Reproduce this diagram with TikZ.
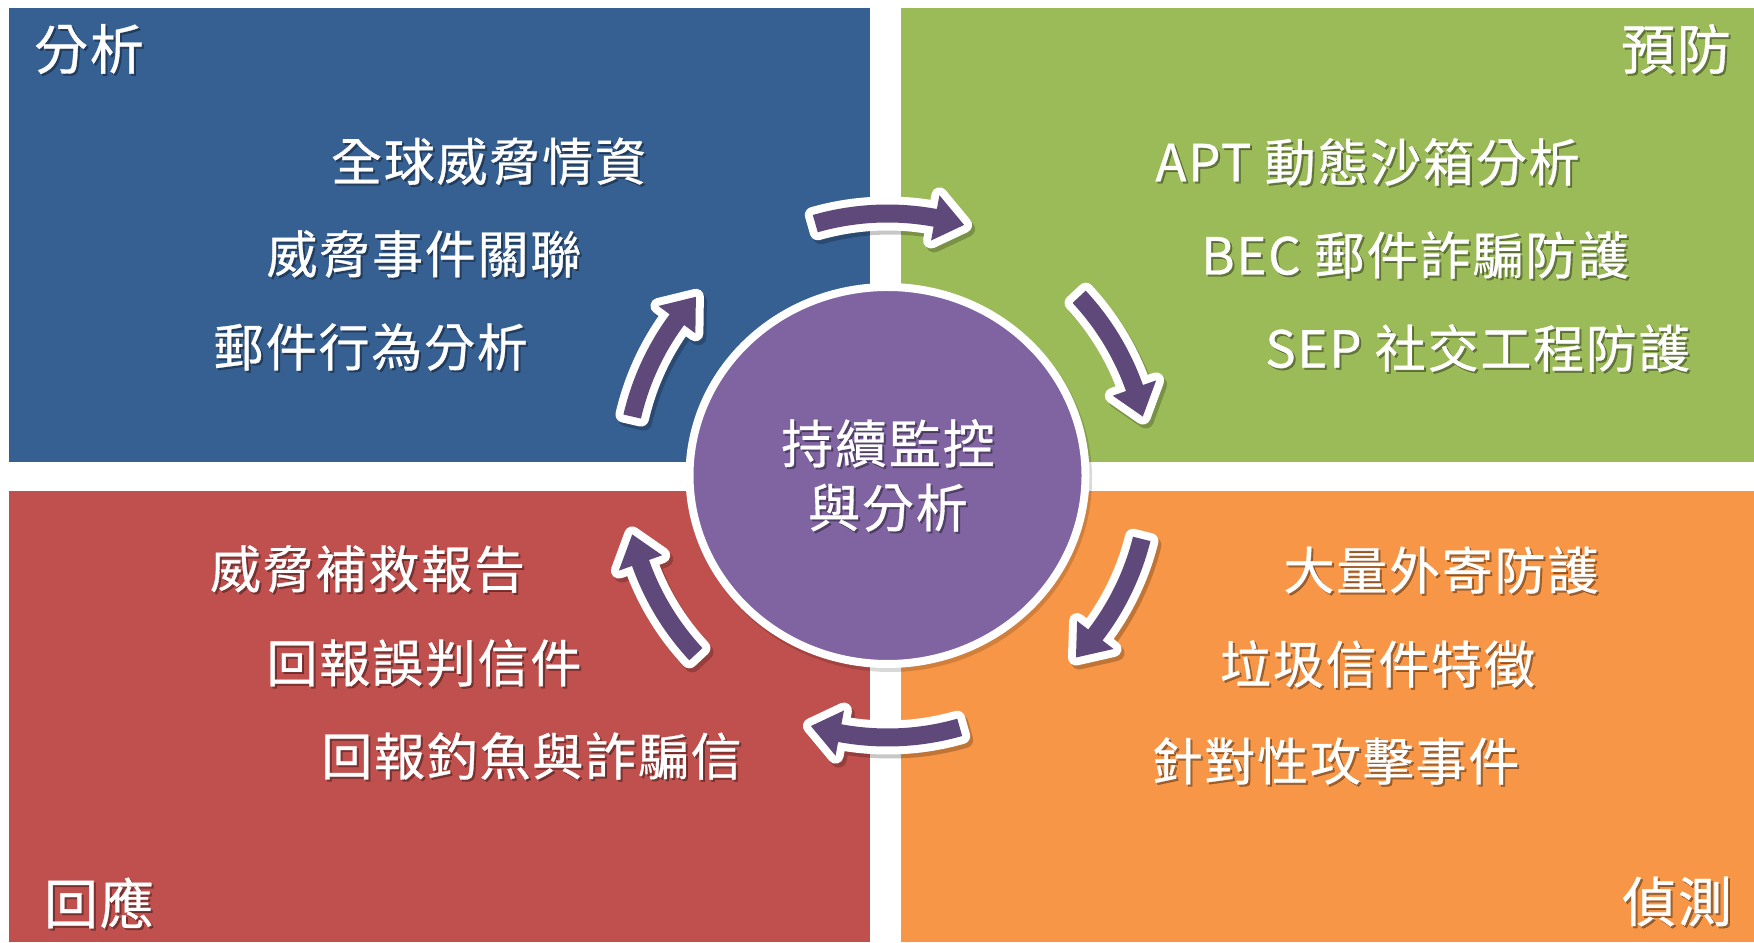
\documentclass[tikz,border=0pt]{standalone}
\usepackage{fontspec}
\newfontfamily\cjk[FakeBold=0.6, LetterSpace=3.5]{Noto Sans CJK TC}
\usetikzlibrary{calc}
\definecolor{qblue}{HTML}{366092}
\definecolor{qgreen}{HTML}{9BBB59}
\definecolor{qred}{HTML}{C0504D}
\definecolor{qorange}{HTML}{F79646}
\definecolor{cpurple}{HTML}{8064A2}
\definecolor{apurple}{HTML}{5F497A}
\newcommand{\arrowshape}[5]{%
  \path[#1] ($(#2)+(#3:135.5pt)$) arc[start angle=#3, end angle=#5, radius=135.5pt]
    -- ($(#2)+(#5:142.5pt)$) -- ($(#2)+(#4:131pt)$) -- ($(#2)+(#5:119.5pt)$)
    -- ($(#2)+(#5:126.5pt)$) arc[start angle=#5, end angle=#3, radius=126.5pt] -- cycle;}
\newcommand{\cyclearrow}[3]{%
  \arrowshape{fill=black, opacity=.22, draw=black, line width=8pt, line join=round}{Cs}{#1}{#2}{#3}%
  \arrowshape{fill=white, draw=white, line width=8pt, line join=round}{C}{#1}{#2}{#3}%
  \arrowshape{fill=apurple}{C}{#1}{#2}{#3}}
\newcommand{\stext}[4]{% name, position, style, text
  \node[#3, text=black, opacity=.35] (#1s) at ($(#2)+(2,-2)$) {#4};
  \node[#3, text=white] (#1) at (#2) {#4};}
\tikzset{
  item/.style={font=\cjk\fontsize{25.5}{30}\selectfont, inner sep=0pt},
  corner/.style={font=\cjk\fontsize{27}{32}\selectfont, inner sep=0pt},
  hub/.style={font=\cjk\fontsize{26}{32}\selectfont, inner sep=0pt, align=center},
}
\begin{document}
\begin{tikzpicture}[x=0.5pt, y=0.5pt]
\fill[white] (0,0) rectangle (1754,942);
\useasboundingbox (0,0) rectangle (1754,942);
% quadrants
\fill[qblue] (9,480) rectangle (870,934);
\fill[qgreen] (901,480) rectangle (1754,934);
\fill[qred] (9,0) rectangle (870,451);
\fill[qorange] (901,0) rectangle (1754,451);
% centre
\coordinate (C) at (887.5,466.5);
\coordinate (Cs) at (890.5,462.5);
\fill[black, opacity=.15] (890,463) ellipse[x radius=101pt, y radius=96.5pt];
\draw[white, line width=4pt, fill=cpurple] (C) ellipse[x radius=99pt, y radius=94.25pt];
% arrows
\cyclearrow{106}{73}{79.5}
\cyclearrow{43}{13}{19.5}
\cyclearrow{-14}{-44}{-37.5}
\cyclearrow{-74}{-107}{-100.5}
\cyclearrow{-137}{-167}{-160.5}
\cyclearrow{167}{137}{143.5}
% centre text
\stext{hubtext}{888,466.5}{hub}{持續監控\\與分析}
% corner labels
\stext{ca}{89,893}{corner}{分析}
\stext{cb}{1676,893}{corner}{預防}
\stext{cc}{99,39}{corner}{回應}
\stext{cd}{1677,40.5}{corner}{偵測}
% items
\stext{tl1}{488.5,780.5}{item}{全球威脅情資}
\stext{tl2}{424,688}{item}{威脅事件關聯}
\stext{tl3}{370.5,595}{item}{郵件行為分析}
\stext{tr1}{1367.5,780}{item}{APT 動態沙箱分析}
\stext{tr2}{1415,687}{item}{BEC 郵件詐騙防護}
\stext{tr3}{1477.5,594}{item}{SEP 社交工程防護}
\stext{bl1}{367.5,373}{item}{威脅補救報告}
\stext{bl2}{424,279}{item}{回報誤判信件}
\stext{bl3}{531.5,186}{item}{回報釣魚與詐騙信}
\stext{br1}{1441,372}{item}{大量外寄防護}
\stext{br2}{1377.5,278}{item}{垃圾信件特徵}
\stext{br3}{1335.5,181}{item}{針對性攻擊事件}
\end{tikzpicture}
\end{document}
